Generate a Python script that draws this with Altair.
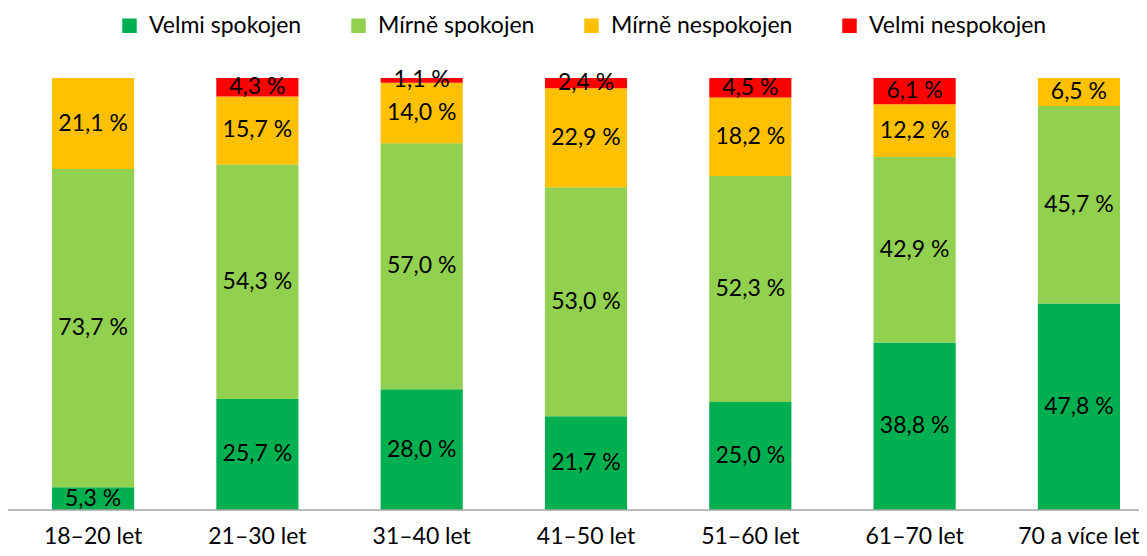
import altair as alt
import pandas as pd

categories = ["18–20 let", "21–30 let", "31–40 let", "41–50 let",
              "51–60 let", "61–70 let", "70 a více let"]
series = ["Velmi spokojen", "Mírně spokojen", "Mírně nespokojen", "Velmi nespokojen"]
colors = ["#00B050", "#92D050", "#FFC000", "#FF0000"]

velmi_spokojen = [5.3, 25.7, 28.0, 21.7, 25.0, 38.8, 47.8]
mirne_spokojen = [73.7, 54.3, 57.0, 53.0, 52.3, 42.9, 45.7]
mirne_nespokojen = [21.1, 15.7, 14.0, 22.9, 18.2, 12.2, 6.5]
velmi_nespokojen = [0.0, 4.3, 1.1, 2.4, 4.5, 6.1, 0.0]

rows = []
for s_i, (name, vals) in enumerate(zip(series, [velmi_spokojen, mirne_spokojen,
                                                mirne_nespokojen, velmi_nespokojen])):
    for c, v in zip(categories, vals):
        if v > 0:
            rows.append({"kat": c, "serie": name, "poradi": s_i, "hodnota": v,
                         "popisek": f"{v:.1f} %".replace(".", ",")})
df = pd.DataFrame(rows)

FONT = "Lato"
FS = 23
W, H = 1068, 432

base = alt.Chart(df).transform_stack(
    stack="hodnota", as_=["y0", "y1"], groupby=["kat"],
    sort=[alt.SortField("poradi", order="ascending")], offset="normalize"
).transform_calculate(mid="(datum.y0 + datum.y1) / 2")

x_scale = alt.Scale(paddingInner=0.5, paddingOuter=0)
x_enc = alt.X("kat:N", sort=categories, scale=x_scale,
              axis=alt.Axis(title=None, labelAngle=0, ticks=False, domain=False,
                            labelFont=FONT, labelFontSize=FS,
                            labelColor="black", labelPadding=15, labelLimit=0))
y_scale = alt.Scale(domain=[0, 1], nice=False)

bars = base.mark_bar().encode(
    x=x_enc,
    y=alt.Y("y0:Q", scale=y_scale, axis=None),
    y2="y1:Q",
    color=alt.Color("serie:N", scale=alt.Scale(domain=series, range=colors),
                    legend=alt.Legend(title=None, orient="none", direction="horizontal",
                                      legendX=66, legendY=-64, padding=0,
                                      symbolType="square", symbolSize=210,
                                      symbolStrokeWidth=0, symbolOpacity=1,
                                      labelFont=FONT, labelFontSize=FS, labelLimit=0,
                                      labelColor="black", columnPadding=45,
                                      labelOffset=8)),
)

labels = base.mark_text(font=FONT, fontSize=FS, color="black").encode(
    x=alt.X("kat:N", sort=categories),
    y=alt.Y("mid:Q", scale=y_scale),
    text="popisek:N",
)

baseline = alt.Chart(pd.DataFrame({"k": [0]})).mark_rule(
    color="#A6A6A6", strokeWidth=1.5
).encode(x=alt.value(-47), x2=alt.value(1090), y=alt.value(H))

chart = alt.layer(bars, labels, baseline).properties(
    width=W, height=H,
    autosize="none",
    padding={"left": 44, "top": 70, "right": 19, "bottom": 38},
).configure_view(stroke=None)

chart.save("out.html", embed_options={"renderer": "svg", "actions": False})
